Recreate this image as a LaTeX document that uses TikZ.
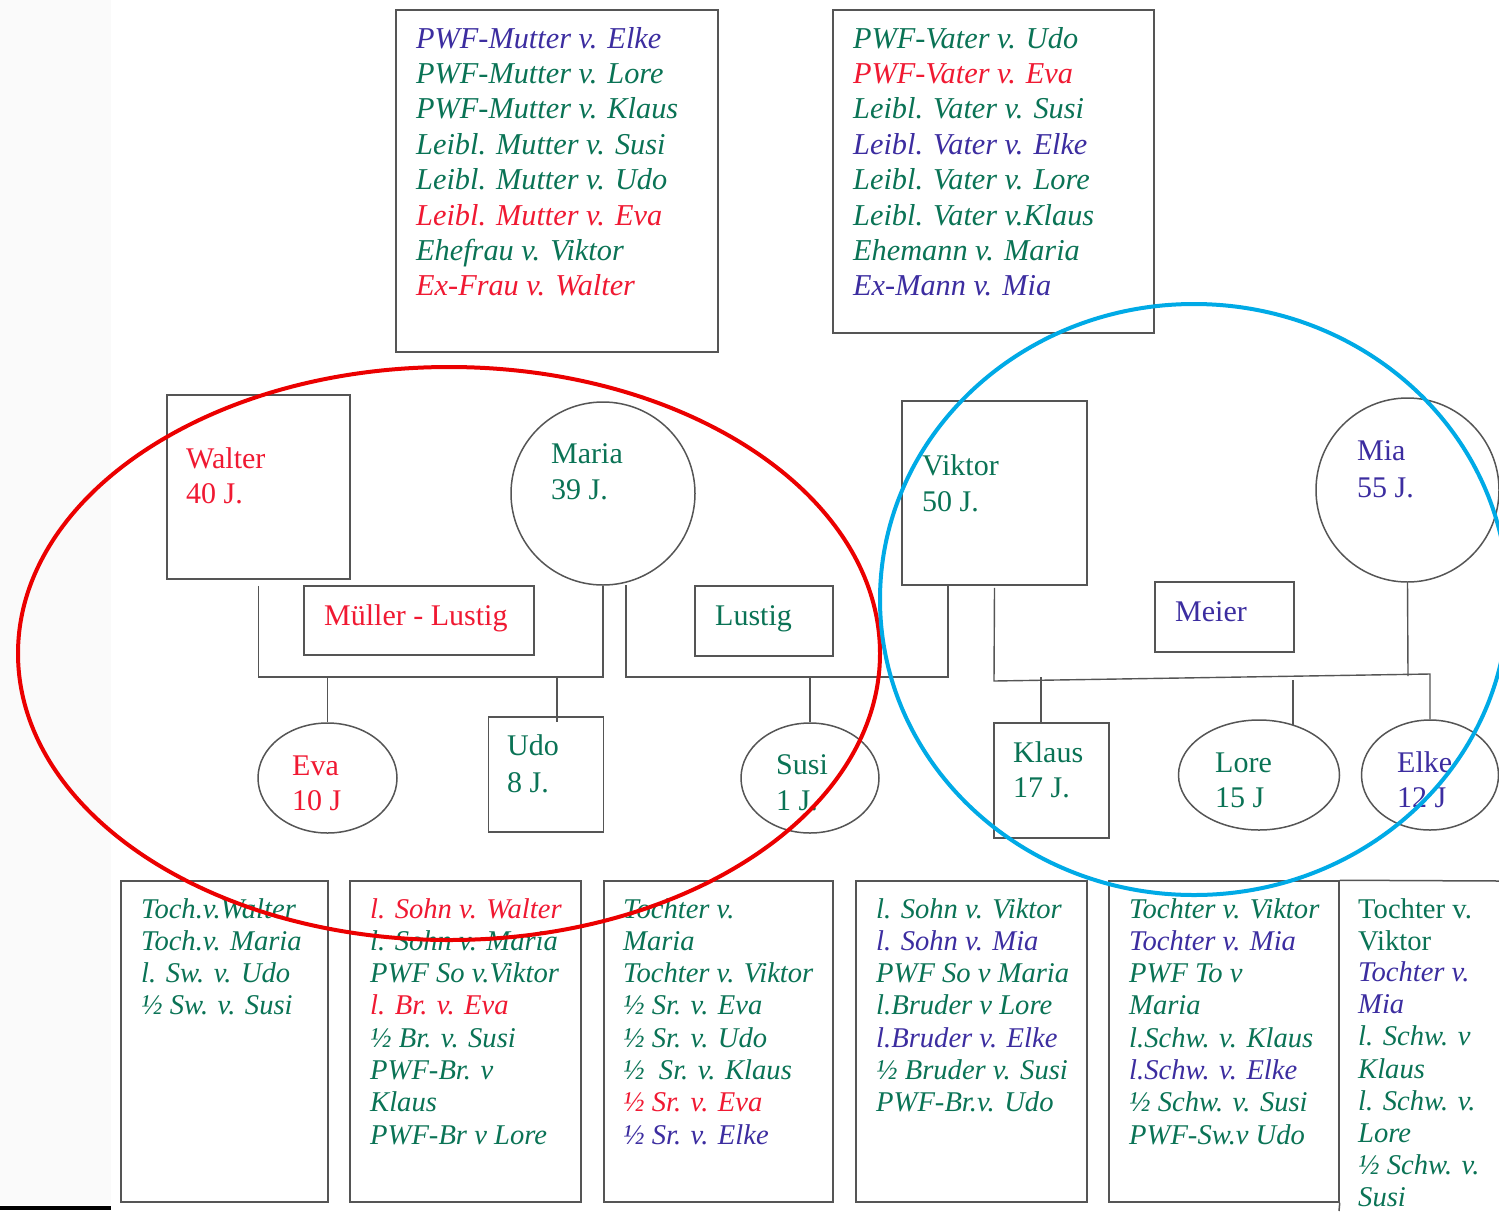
\documentclass[tikz,border=0pt]{standalone}
\usepackage{fontspec}
\setmainfont{Liberation Serif}
\usetikzlibrary{shapes.geometric}
\definecolor{tgreen}{RGB}{10,115,85}
\definecolor{tred}{RGB}{240,25,50}
\definecolor{tblue}{RGB}{60,45,160}
\definecolor{lgrey}{RGB}{85,85,85}
\definecolor{ringred}{RGB}{235,0,0}
\definecolor{ringblue}{RGB}{0,170,230}
\definecolor{stripgrey}{RGB}{250,250,250}
\begin{document}
\begin{tikzpicture}[x={(1pt,0pt)}, y={(0pt,-1pt)},
  frame/.style={draw=lgrey, line width=1.5pt, inner sep=0pt},
  oval/.style={frame, ellipse},
  conn/.style={draw=lgrey, line width=1.4pt},
  nm/.style={anchor=base west, inner sep=0pt, font=\fontsize{30}{35}\selectfont},
  rtop/.style={anchor=base west, inner sep=0pt, font=\fontsize{30.3}{35}\selectfont\itshape},
  rbot/.style={anchor=base west, inner sep=0pt, font=\fontsize{28.6}{32}\selectfont\itshape},
  rbotup/.style={anchor=base west, inner sep=0pt, font=\fontsize{28.6}{32}\selectfont},
  ring/.style={line width=4pt}
]
\useasboundingbox (0,0) rectangle (1499,1211);
\fill[white] (0,0) rectangle (1499,1211);
\fill[stripgrey] (0,0) rectangle (111,1205);
\fill[black] (0,1206) rectangle (111,1209.5);

% top boxes
\node[frame, minimum width=322pt, minimum height=342pt] (ta) at (557,181) {};
\node[frame, minimum width=321pt, minimum height=323pt] (tb) at (993.5,171.5) {};
\foreach \t/\c [count=\i from 0] in {PWF-Mutter v. Elke/tblue, PWF-Mutter v. Lore/tgreen, PWF-Mutter v. Klaus/tgreen, Leibl. Mutter v. Susi/tgreen, Leibl. Mutter v. Udo/tgreen, Leibl. Mutter v. Eva/tred, Ehefrau v. Viktor/tgreen, Ex-Frau v. Walter/tred}
  \node[rtop, text=\c] (ta-\i) at (416,{48+35.4*\i}) {\t};
\foreach \t/\c [count=\i from 0] in {PWF-Vater v. Udo/tgreen, PWF-Vater v. Eva/tred, Leibl. Vater v. Susi/tgreen, Leibl. Vater v. Elke/tblue, Leibl. Vater v. Lore/tgreen, Leibl. Vater v.Klaus/tgreen, Ehemann v. Maria/tgreen, Ex-Mann v. Mia/tblue}
  \node[rtop, text=\c] (tb-\i) at (853,{48+35.4*\i}) {\t};

% persons
\node[frame, minimum width=183pt, minimum height=184pt] (walter) at (258.5,487) {};
\node[oval, minimum width=184pt, minimum height=183pt] (maria) at (603,493.5) {};
\node[frame, minimum width=230pt, minimum height=69pt] (mueller) at (419,620.5) {};
\node[frame, minimum width=138pt, minimum height=70pt] (lustig) at (764,621) {};
\node[frame, minimum width=185pt, minimum height=184pt] (viktor) at (994.5,493) {};
\node[frame, minimum width=139pt, minimum height=70pt] (meier) at (1224.5,617) {};
\node[oval, minimum width=183pt, minimum height=184pt] (mia) at (1407.5,490) {};
\node[oval, minimum width=139pt, minimum height=110pt] (eva) at (327.5,778) {};
\node[frame, minimum width=115pt, minimum height=115pt] (udo) at (546,774.5) {};
\node[oval, minimum width=138pt, minimum height=110pt] (susi) at (810,778) {};
\node[frame, minimum width=115pt, minimum height=115pt] (klaus) at (1051.5,780.5) {};
\node[oval, minimum width=161pt, minimum height=110pt] (lore) at (1259,775) {};
\node[oval, minimum width=137pt, minimum height=110pt] (elke) at (1430,775) {};

% names
\node[nm, text=tred] (walter-n) at (186,468) {Walter};
\node[nm, text=tred] (walter-a) at (186,503) {40 J.};
\node[nm, text=tgreen] (maria-n) at (551,463) {Maria};
\node[nm, text=tgreen] (maria-a) at (551,499) {39 J.};
\node[nm, text=tred] (mueller-n) at (324,625) {Müller - Lustig};
\node[nm, text=tgreen] (lustig-n) at (715,625) {Lustig};
\node[nm, text=tgreen] (viktor-n) at (922,475) {Viktor};
\node[nm, text=tgreen] (viktor-a) at (922,511) {50 J.};
\node[nm, text=tblue] (meier-n) at (1175,621) {Meier};
\node[nm, text=tblue] (mia-n) at (1357,460) {Mia};
\node[nm, text=tblue] (mia-a) at (1357,497) {55 J.};
\node[nm, text=tred] (eva-n) at (292,775) {Eva};
\node[nm, text=tred] (eva-a) at (292,810) {10 J};
\node[nm, text=tgreen] (udo-n) at (507,755) {Udo};
\node[nm, text=tgreen] (udo-a) at (507,792) {8 J.};
\node[nm, text=tgreen] (susi-n) at (776,774) {Susi};
\node[nm, text=tgreen] (susi-a) at (776,810) {1 J.};
\node[nm, text=tgreen] (klaus-n) at (1013,762) {Klaus};
\node[nm, text=tgreen] (klaus-a) at (1013,797) {17 J.};
\node[nm, text=tgreen] (lore-n) at (1215,772) {Lore};
\node[nm, text=tgreen] (lore-a) at (1215,807) {15 J};
\node[nm, text=tblue] (elke-n) at (1397,772) {Elke};
\node[nm, text=tblue] (elke-a) at (1397,807) {12 J};

% connectors
\coordinate (bar1) at (0,677);
\draw[conn] ([yshift=-6pt]walter.south) -- (walter.south |- bar1) -- (maria.south |- bar1) -- (maria.south);
\draw[conn] (eva.north |- bar1) -- (eva.north);
\coordinate (udoj) at (557,677);
\draw[conn] (udoj) -- ([yshift=-6pt]udoj |- udo.north);
\coordinate (mvl) at (626,585);
\coordinate (mvr) at (948,585);
\draw[conn] (mvl) -- (mvl |- bar1) -- (mvr |- bar1) -- (mvr);
\draw[conn] (susi.north |- bar1) -- (susi.north);
\coordinate (vj) at (994,681);
\coordinate (ej) at (1430,674);
\draw[conn] ([yshift=-2pt]viktor.south) -- (vj) -- (ej) -- (elke.north);
\draw[conn] (mia.south) -- (1408,676);
\coordinate (kj) at (1041,677);
\draw[conn] (kj) -- (kj |- klaus.north);
\coordinate (lj) at (1293,680);
\draw[conn] (lj) -- (1293,725);

% bottom boxes
\node[frame, minimum width=207pt, minimum height=321pt] (b1) at (224.5,1041.5) {};
\node[frame, minimum width=231pt, minimum height=321pt] (b2) at (465.5,1041.5) {};
\node[frame, minimum width=229pt, minimum height=321pt] (b3) at (718.5,1041.5) {};
\node[frame, minimum width=231pt, minimum height=321pt] (b4) at (971.5,1041.5) {};
\node[frame, minimum width=230pt, minimum height=321pt] (b5) at (1224,1041.5) {};
\draw[frame] (b5.north east) -- (1499,881);
\draw[frame] (b5.south east) -- (1339,1211);

\foreach \t/\c [count=\i from 0] in {Toch.v.Walter/tgreen, Toch.v. Maria/tgreen, l. Sw. v. Udo/tgreen, ½ Sw. v. Susi/tgreen}
  \node[rbot, text=\c] (b1-\i) at (141,{918+32.3*\i}) {\t};
\foreach \t/\c [count=\i from 0] in {l. Sohn v. Walter/tred, l. Sohn v. Maria/tgreen, PWF So v.Viktor/tgreen, l. Br. v. Eva/tred, ½ Br. v. Susi/tgreen, PWF-Br. v/tgreen, Klaus/tgreen, PWF-Br v Lore/tgreen}
  \node[rbot, text=\c] (b2-\i) at (370,{918+32.3*\i}) {\t};
\foreach \t/\c [count=\i from 0] in {Tochter v./tgreen, Maria/tgreen, Tochter v. Viktor/tgreen, ½ Sr. v. Eva/tgreen, ½ Sr. v. Udo/tgreen, ½~ Sr. v. Klaus/tgreen, ½ Sr. v. Eva/tred, ½ Sr. v. Elke/tblue}
  \node[rbot, text=\c] (b3-\i) at (623,{918+32.3*\i}) {\t};
\foreach \t/\c [count=\i from 0] in {l. Sohn v. Viktor/tgreen, l. Sohn v. Mia/tblue, PWF So v Maria/tgreen, l.Bruder v Lore/tgreen, l.Bruder v. Elke/tblue, ½ Bruder v. Susi/tgreen, PWF-Br.v. Udo/tgreen}
  \node[rbot, text=\c] (b4-\i) at (876,{918+32.3*\i}) {\t};
\foreach \t/\c [count=\i from 0] in {Tochter v. Viktor/tgreen, Tochter v. Mia/tblue, PWF To v/tgreen, Maria/tgreen, l.Schw. v. Klaus/tgreen, l.Schw. v. Elke/tblue, ½ Schw. v. Susi/tgreen, PWF-Sw.v Udo/tgreen}
  \node[rbot, text=\c] (b5-\i) at (1129,{918+32.3*\i}) {\t};
\node[rbotup, text=tgreen] (b6-0) at (1358,918) {Tochter v.};
\node[rbotup, text=tgreen] (b6-1) at (1358,950.3) {Viktor};
\foreach \t/\c [count=\i from 2] in {Tochter v./tblue, Mia/tblue, l. Schw. v/tgreen, Klaus/tgreen, l. Schw. v./tgreen, Lore/tgreen, ½ Schw. v./tgreen, Susi/tgreen}
  \node[rbot, text=\c] (b6-\i) at (1358,{917+32.2*\i}) {\t};

% rings
\draw[ring, ringred] (449,653.5) ellipse [x radius=431pt, y radius=286.5pt];
\draw[ring, ringblue] (1194,599.5) ellipse [x radius=314pt, y radius=295.5pt];
\end{tikzpicture}
\end{document}
